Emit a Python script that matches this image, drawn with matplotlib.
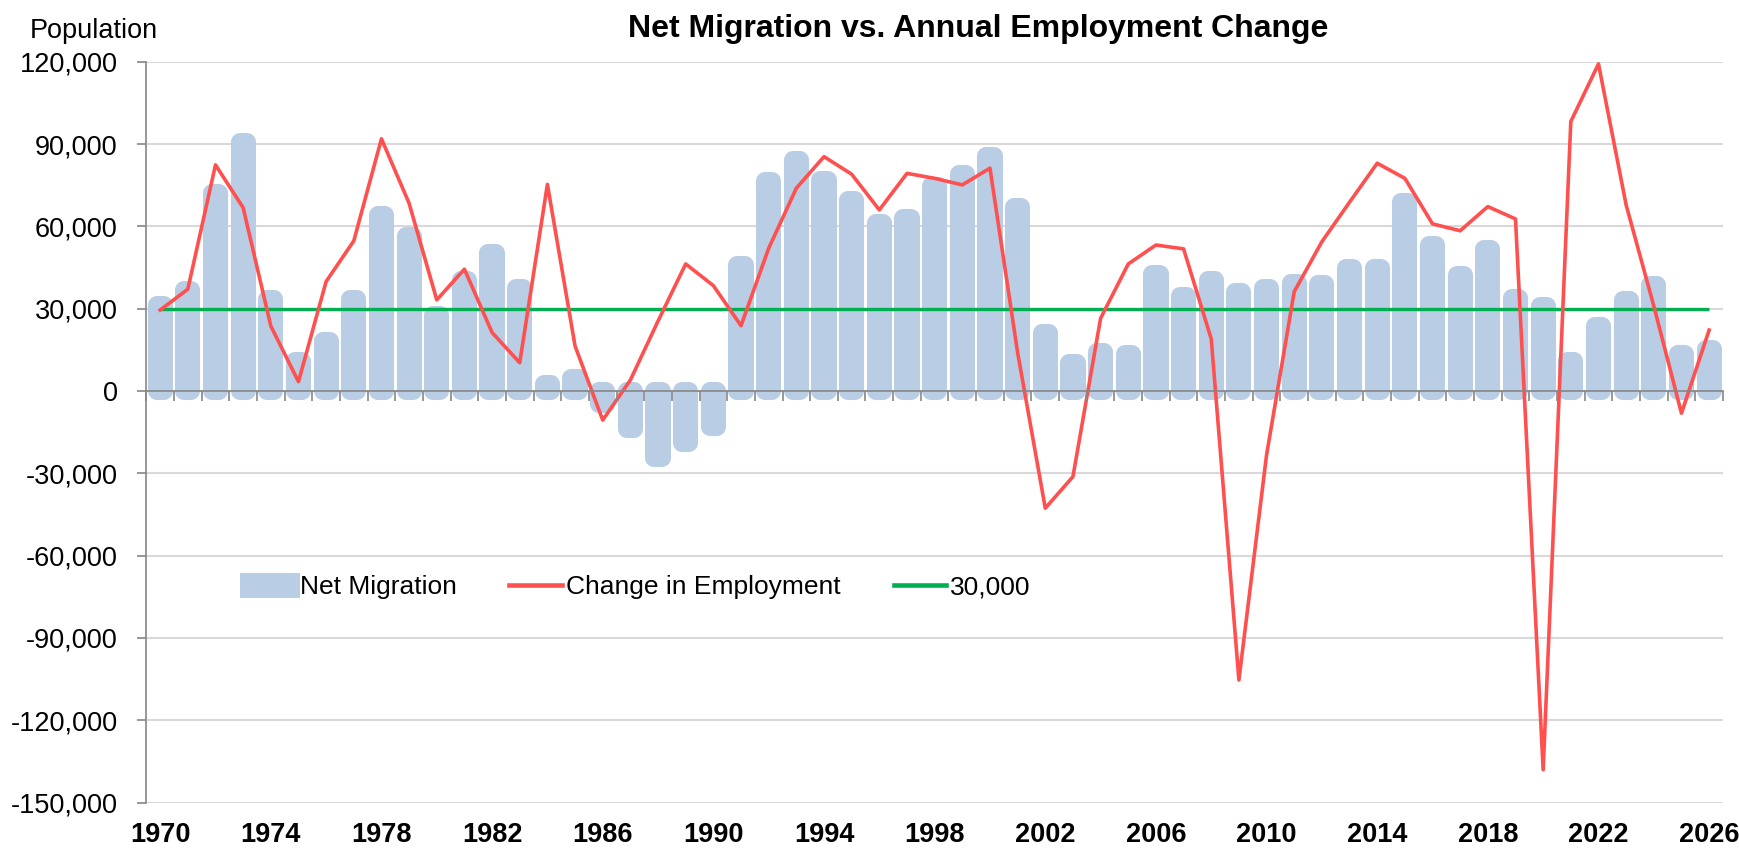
import matplotlib
matplotlib.use('Agg')
import matplotlib.pyplot as plt
import numpy as np
from matplotlib.ticker import FuncFormatter, NullFormatter
from matplotlib.patches import Patch

years = list(range(1970, 2027))
net_migration = [
    31400, 36700, 72000, 90900, 33500, 10800, 18400, 33500, 64300, 56600,
    27800, 40500, 50400, 37400, 2600, 4900, -4900, -14000, -24300, -18800,
    -13100, 45900, 76700, 84200, 76900, 69700, 61400, 62900, 74800, 79100,
    85800, 67100, 21000, 10100, 14100, 13500, 42500, 34800, 40300, 36000,
    37400, 39200, 38900, 44800, 44800, 68800, 53200, 42300, 51600, 34000,
    31100, 10900, 23600, 33200, 38600, 13400, 15300,
]
employment_change = [
    29500, 37100, 82400, 66800, 23700, 3400, 39900, 54700, 91900, 68400,
    33200, 44400, 21300, 10300, 75300, 16400, -10600, 4000, 25500, 46300,
    38400, 23800, 52000, 73900, 85400, 79000, 66000, 79300, 77500, 75100,
    81200, 14000, -42700, -31200, 26500, 46300, 53200, 51800, 19000, -105300,
    -23300, 36200, 54400, 68800, 83000, 77500, 60900, 58400, 67200, 62700,
    -138000, 98200, 119200, 67800, 31000, -8100, 22200,
]
benchmark = 30000
series_names = ['Net Migration', 'Change in Employment', '30,000']
title = 'Net Migration vs. Annual Employment Change'
y_label = 'Population'
y_ticks = list(range(-150000, 120001, 30000))
label_years = list(range(1970, 2027, 4))

plt.rcParams['font.family'] = ['Liberation Sans', 'DejaVu Sans']

BAR = '#B9CDE5'
RED = '#FF5050'
GREEN = '#00B050'
GRAY = '#868686'
GRID = '#D9D9D9'

fig = plt.figure(figsize=(17.4, 8.58), dpi=100)
ax = fig.add_axes([0.0841, 0.0645, 0.9061, 0.8636])

x = np.arange(len(years))
ax.bar(x, net_migration, width=0.26, color=BAR, edgecolor=BAR, linewidth=13,
       joinstyle='round', zorder=2)
ax.plot(x, [benchmark] * len(x), color=GREEN, lw=2.4, zorder=3,
        solid_capstyle='butt')
ax.plot(x, employment_change, color=RED, lw=2.6, zorder=4)

ymin, ymax = y_ticks[0], y_ticks[-1]
ax.set_ylim(ymin, ymax)
ax.set_xlim(-0.5, len(years) - 0.5)

ax.set_yticks(y_ticks)
ax.yaxis.set_major_formatter(FuncFormatter(lambda v, p: f'{int(v):,}'))
ax.yaxis.grid(True, color=GRID, lw=1.5)
ax.set_axisbelow(True)
ax.tick_params(axis='y', length=6.5, width=1.2, color=GRAY, pad=14,
               labelsize=19.5)

pos = [years.index(yr) for yr in label_years]
ax.set_xticks(pos)
ax.set_xticklabels([str(yr) for yr in label_years], fontweight='bold')
ax.tick_params(axis='x', length=0, pad=14, labelsize=19.5)

for s in ['top', 'right', 'bottom']:
    ax.spines[s].set_visible(False)
ax.spines['left'].set_color(GRAY)
ax.spines['left'].set_linewidth(1.2)

zero_frac = (0 - ymin) / (ymax - ymin)
sec = ax.secondary_xaxis(zero_frac)
sec.set_alignment('bottom')
sec.set_xticks(np.arange(-0.5, len(years), 1.0))
sec.xaxis.set_major_formatter(NullFormatter())
sec.tick_params(axis='x', length=7, width=1.2, color=GRAY, direction='out')
for s in sec.spines.values():
    s.set_color(GRAY)
    s.set_linewidth(1.2)
sec.set_zorder(5)

handles = [
    Patch(facecolor=BAR, edgecolor=BAR, linewidth=5, joinstyle='round'),
    plt.Line2D([], [], color=RED, lw=3.3),
    plt.Line2D([], [], color=GREEN, lw=3.3),
]
ax.legend(handles, series_names, loc='center left', bbox_to_anchor=(0.053, 0.291),
          ncol=3, frameon=False, fontsize=19, handlelength=2.0,
          handletextpad=0.15, columnspacing=2.0, borderpad=0)

fig.text(978 / 1740, 1 - 37 / 858, title, ha='center', va='baseline',
         fontsize=23, fontweight='bold')
fig.text(30 / 1740, 1 - 38 / 858, y_label, ha='left', va='baseline', fontsize=19.5)

fig.savefig('out.png', dpi=100)
